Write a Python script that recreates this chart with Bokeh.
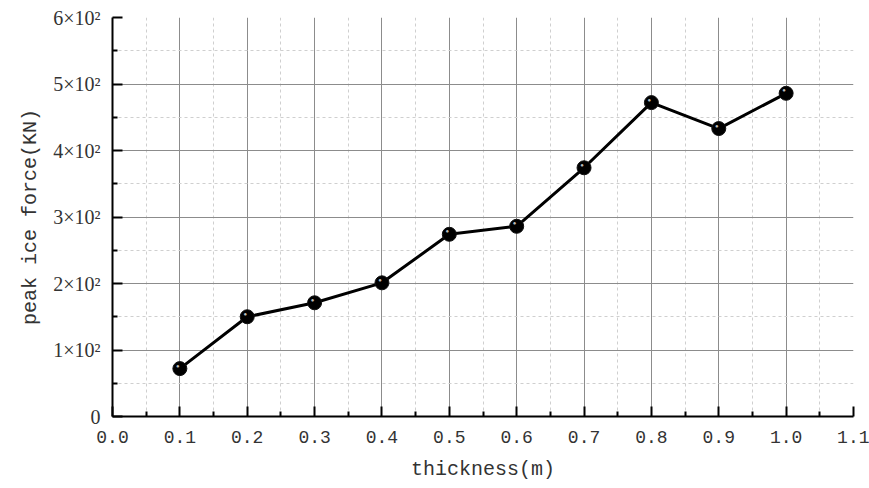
from bokeh.plotting import figure
from bokeh.models import FixedTicker, PrintfTickFormatter, Range1d
from bokeh.embed import file_html
from bokeh.resources import INLINE

thickness = [0.1, 0.2, 0.3, 0.4, 0.5, 0.6, 0.7, 0.8, 0.9, 1.0]
peak_force = [72, 150, 171, 201, 274, 286, 374, 472, 433, 486]
x_ticks = [0.0, 0.1, 0.2, 0.3, 0.4, 0.5, 0.6, 0.7, 0.8, 0.9, 1.0, 1.1]
x_minor = [0.05, 0.15, 0.25, 0.35, 0.45, 0.55, 0.65, 0.75, 0.85, 0.95, 1.05]
y_ticks = [0, 100, 200, 300, 400, 500, 600]
y_minor = [50, 150, 250, 350, 450, 550]
y_labels = ["0", "1×10²", "2×10²", "3×10²", "4×10²", "5×10²", "6×10²"]

MONO = "Liberation Mono"
SERIF = "Liberation Serif"

p = figure(width=869, height=488, output_backend="svg", toolbar_location=None,
           x_range=Range1d(0, 1.1), y_range=Range1d(0, 600),
           min_border_left=112, min_border_right=16, min_border_top=17, min_border_bottom=72)
p.outline_line_color = None
p.background_fill_color = "white"

p.line(thickness, peak_force, line_color="black", line_width=3)
p.scatter(thickness, peak_force, size=14, fill_color="black", line_color="#111111", line_width=1)
p.text(thickness, peak_force, text=["●"] * len(thickness), text_font_size="6px",
       text_color="#bdbdbd", x_offset=-2, y_offset=-3,
       text_align="center", text_baseline="middle")

for ax, ticks, minor in ((p.xaxis[0], x_ticks, x_minor), (p.yaxis[0], y_ticks, y_minor)):
    ax.ticker = FixedTicker(ticks=ticks, minor_ticks=minor)
    ax.axis_line_color = "black"
    ax.axis_line_width = 2
    ax.major_tick_in = 10
    ax.major_tick_out = 0
    ax.major_tick_line_width = 2
    ax.major_tick_line_color = "black"
    ax.minor_tick_in = 5
    ax.minor_tick_out = 0
    ax.minor_tick_line_width = 2
    ax.minor_tick_line_color = "black"
    ax.major_label_text_color = "#333333"
    ax.axis_label_text_font = MONO
    ax.axis_label_text_font_size = "20px"
    ax.axis_label_text_font_style = "normal"
    ax.axis_label_text_color = "#333333"

p.xaxis[0].formatter = PrintfTickFormatter(format="%.1f")
p.xaxis[0].major_label_text_font = MONO
p.xaxis[0].major_label_text_font_size = "18px"
p.xaxis[0].major_label_standoff = 14
p.xaxis[0].axis_label = "thickness(m)"
p.xaxis[0].axis_label_standoff = 12
p.yaxis[0].major_label_overrides = {t: l for t, l in zip(y_ticks, y_labels)}
p.yaxis[0].major_label_text_font = SERIF
p.yaxis[0].major_label_text_font_size = "20px"
p.yaxis[0].major_label_standoff = 12
p.yaxis[0].axis_label = "peak ice force(KN)"
p.yaxis[0].axis_label_standoff = 8

for g in (p.xgrid[0], p.ygrid[0]):
    g.grid_line_color = "#8c8c8c"
    g.grid_line_width = 1
    g.minor_grid_line_color = "#cfcfcf"
    g.minor_grid_line_dash = "3 3"
    g.minor_grid_line_width = 1
p.xgrid[0].ticker = FixedTicker(ticks=x_ticks, minor_ticks=x_minor)
p.ygrid[0].ticker = FixedTicker(ticks=y_ticks, minor_ticks=y_minor)

open("out.html", "w").write(file_html(p, INLINE))
